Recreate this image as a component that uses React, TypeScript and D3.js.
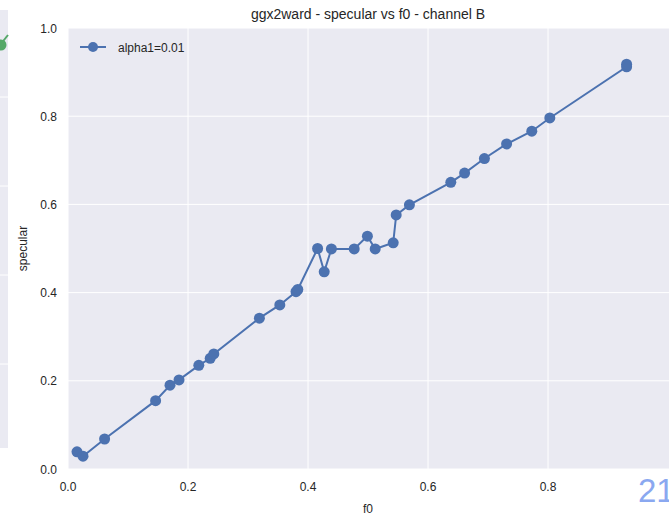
import { useEffect, useRef } from 'react';
import * as d3 from 'd3';

const f0 = [0.015, 0.025, 0.061, 0.146, 0.17, 0.185, 0.218, 0.237, 0.243, 0.319, 0.353, 0.38, 0.383,
  0.416, 0.427, 0.439, 0.477, 0.499, 0.512, 0.542, 0.547, 0.569, 0.638, 0.661, 0.694, 0.731, 0.773,
  0.803, 0.931, 0.931];
const specular = [0.039, 0.029, 0.068, 0.155, 0.19, 0.202, 0.235, 0.251, 0.261, 0.342, 0.372, 0.402, 0.407,
  0.5, 0.447, 0.499, 0.499, 0.528, 0.499, 0.513, 0.576, 0.599, 0.65, 0.671, 0.704, 0.737, 0.766,
  0.796, 0.912, 0.918];
const xTicks = [0, 0.2, 0.4, 0.6, 0.8];
const yTicks = [0, 0.2, 0.4, 0.6, 0.8, 1.0];
const seriesLabel = 'alpha1=0.01';

export default function App() {
  const svgRef = useRef<SVGSVGElement>(null);

  useEffect(() => {
    if (!svgRef.current) return;
    const svg = d3.select(svgRef.current);
    svg.selectAll('*').remove();

    const left = 68, top = 28, bottom = 469;
    const x = d3.scaleLinear().domain([0, 1]).range([left, 668]);
    const y = d3.scaleLinear().domain([0, 1]).range([bottom, top]);
    const font = '"Liberation Sans", Arial, sans-serif';
    const blue = '#4C72B0';

    // neighbouring subplot, cut off at the left edge
    svg.append('rect').attr('x', 0).attr('y', 10).attr('width', 8).attr('height', 438).attr('fill', '#EAEAF2');
    [97, 186, 275, 364].forEach((gy) => {
      svg.append('line').attr('x1', 0).attr('x2', 8).attr('y1', gy).attr('y2', gy).attr('stroke', 'white');
    });
    svg.append('line').attr('x1', 0).attr('y1', 45).attr('x2', 8).attr('y2', 35)
      .attr('stroke', '#55A868').attr('stroke-width', 2);
    svg.append('circle').attr('cx', 1).attr('cy', 45).attr('r', 5.5).attr('fill', '#55A868');

    // main panel
    svg.append('rect').attr('x', left).attr('y', top).attr('width', 669 - left).attr('height', bottom - top)
      .attr('fill', '#EAEAF2');

    const g = svg.append('g');
    xTicks.forEach((t) => {
      g.append('line').attr('x1', x(t)).attr('x2', x(t)).attr('y1', top).attr('y2', bottom)
        .attr('stroke', 'white').attr('stroke-width', 1);
      g.append('text').attr('x', x(t)).attr('y', bottom + 22).attr('text-anchor', 'middle')
        .attr('font-family', font).attr('font-size', 12).attr('fill', '#262626').text(t.toFixed(1));
    });
    yTicks.forEach((t) => {
      g.append('line').attr('x1', left).attr('x2', 669).attr('y1', y(t)).attr('y2', y(t))
        .attr('stroke', 'white').attr('stroke-width', 1);
      g.append('text').attr('x', left - 11).attr('y', y(t) + 4.5).attr('text-anchor', 'end')
        .attr('font-family', font).attr('font-size', 12).attr('fill', '#262626').text(t.toFixed(1));
    });

    const pts = f0.map((v, i) => [v, specular[i]] as [number, number]);
    const line = d3.line<[number, number]>().x((d) => x(d[0])).y((d) => y(d[1]));
    g.append('path').datum(pts).attr('d', line).attr('fill', 'none').attr('stroke', blue)
      .attr('stroke-width', 2);
    g.selectAll('.dot').data(pts).enter().append('circle')
      .attr('cx', (d) => x(d[0])).attr('cy', (d) => y(d[1])).attr('r', 5.5).attr('fill', blue);

    // legend
    svg.append('line').attr('x1', 80).attr('x2', 106).attr('y1', 47).attr('y2', 47)
      .attr('stroke', blue).attr('stroke-width', 2);
    svg.append('circle').attr('cx', 93).attr('cy', 47).attr('r', 5).attr('fill', blue);
    svg.append('text').attr('x', 118).attr('y', 51.5).attr('font-family', font).attr('font-size', 12)
      .attr('fill', '#262626').text(seriesLabel);

    // titles
    svg.append('text').attr('x', 368).attr('y', 19).attr('text-anchor', 'middle')
      .attr('font-family', font).attr('font-size', 14).attr('fill', '#262626')
      .text('ggx2ward - specular vs f0 - channel B');
    svg.append('text').attr('x', 368).attr('y', 513).attr('text-anchor', 'middle')
      .attr('font-family', font).attr('font-size', 12).attr('fill', '#262626').text('f0');
    svg.append('text').attr('transform', `translate(27,${(top + bottom) / 2}) rotate(-90)`)
      .attr('text-anchor', 'middle').attr('font-family', font).attr('font-size', 12)
      .attr('fill', '#262626').text('specular');

    svg.append('text').attr('x', 638).attr('y', 502).attr('font-family', font).attr('font-size', 33)
      .attr('fill', '#8AA8F0').text('21');
  }, []);

  return (
    <svg ref={svgRef} width={669} height={517}
      style={{ position: 'absolute', left: 0, top: 0, background: 'white' }} />
  );
}
